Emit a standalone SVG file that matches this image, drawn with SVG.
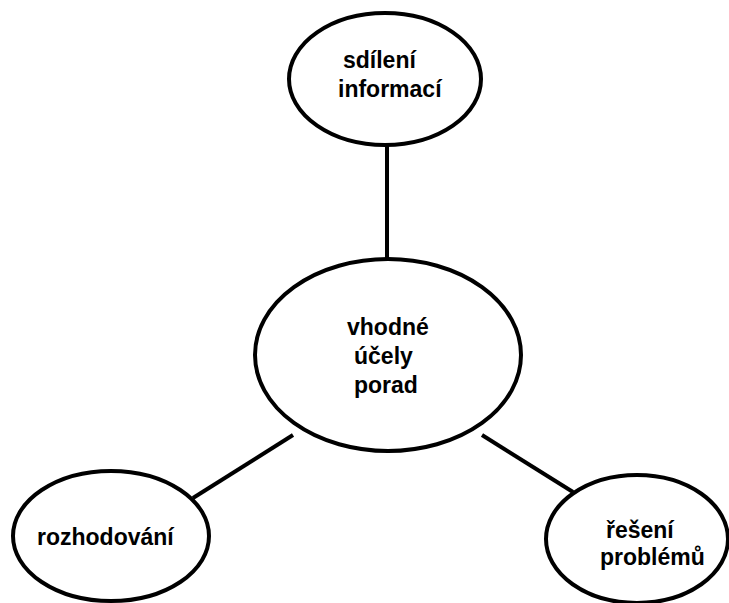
<svg xmlns="http://www.w3.org/2000/svg" width="729" height="603" viewBox="0 0 729 603">
<style>
.n{fill:#fff;stroke:#000;stroke-width:4}
.c{stroke:#000;stroke-width:4;fill:none}
text{font-family:"Liberation Sans",Arial,sans-serif;font-weight:bold;font-size:23px;fill:#000}
</style>
<rect width="729" height="603" fill="#fff"/>
<g id="connectors">
<line class="c" x1="387" y1="144" x2="387" y2="259"/>
<line class="c" x1="193" y1="498" x2="293" y2="435"/>
<line class="c" x1="482" y1="435" x2="573" y2="492"/>
</g>
<g id="top">
<ellipse class="n" cx="385" cy="79" rx="96" ry="66"/>
<text x="343" y="68">sdílení</text>
<text x="338" y="97">informací</text>
</g>
<g id="center">
<ellipse class="n" cx="388" cy="355" rx="133" ry="96"/>
<text x="347" y="335">vhodné</text>
<text x="354" y="364">účely</text>
<text x="354" y="393">porad</text>
</g>
<g id="left">
<ellipse class="n" cx="111" cy="536" rx="98" ry="65"/>
<text x="37" y="545">rozhodování</text>
</g>
<g id="right">
<ellipse class="n" cx="637" cy="539" rx="91" ry="64"/>
<text x="606" y="538">řešení</text>
<text x="600" y="565">problémů</text>
</g>
</svg>
